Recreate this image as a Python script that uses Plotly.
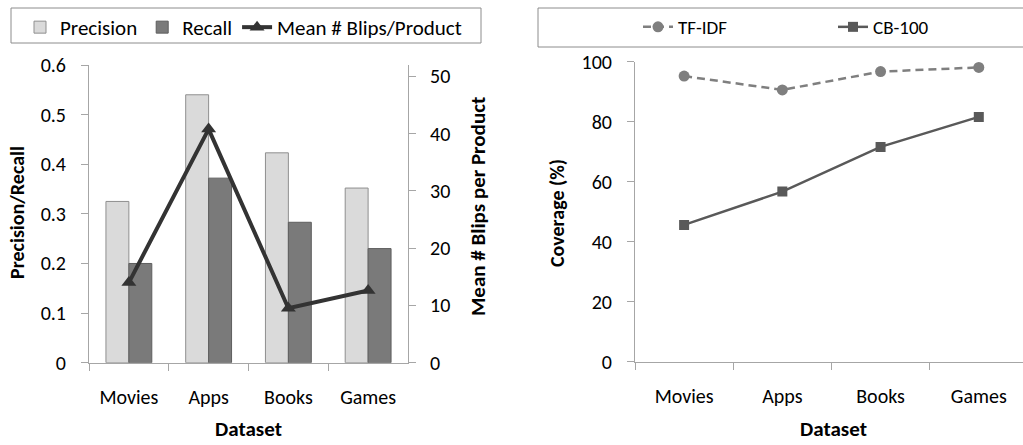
import plotly.graph_objects as go

# ---------------- data ----------------
categories = ["Movies", "Apps", "Books", "Games"]
precision = [0.325, 0.54, 0.423, 0.352]
recall = [0.2, 0.372, 0.283, 0.23]
blips = [14.0, 40.8, 9.5, 12.6]
tfidf = [95.2, 90.6, 96.7, 98.1]
cb100 = [45.6, 56.7, 71.6, 81.6]

left_ticks = [0, 0.1, 0.2, 0.3, 0.4, 0.5, 0.6]
left_ticklabels = ["0", "0.1", "0.2", "0.3", "0.4", "0.5", "0.6"]
blip_ticks = [0, 10, 20, 30, 40, 50]
cov_ticks = [0, 20, 40, 60, 80, 100]

W, H = 1023, 445
FONT = "Carlito, Calibri, Lato, sans-serif"
AX = "#a6a6a6"


def px(x):
    return x / W


def py(y):
    return 1 - y / H


fig = go.Figure()

fig.add_trace(go.Bar(
    x=categories, y=precision, name="Precision",
    marker=dict(color="#dadada", line=dict(color="#8f8f8f", width=1)),
    xaxis="x", yaxis="y", legend="legend",
))
fig.add_trace(go.Bar(
    x=categories, y=recall, name="Recall",
    marker=dict(color="#7a7a7a", line=dict(color="#5e5e5e", width=1)),
    xaxis="x", yaxis="y", legend="legend",
))
fig.add_trace(go.Scatter(
    x=categories, y=blips, name="Mean # Blips/Product",
    mode="lines+markers",
    line=dict(color="#333333", width=4),
    marker=dict(symbol="triangle-up", size=13, color="#333333"),
    xaxis="x", yaxis="y2", legend="legend",
))

fig.add_trace(go.Scatter(
    x=categories, y=tfidf, name="TF-IDF",
    mode="lines+markers",
    line=dict(color="#7f7f7f", width=2.5, dash="8px,5px"),
    marker=dict(symbol="circle", size=11, color="#7f7f7f"),
    xaxis="x3", yaxis="y3", legend="legend2",
))
fig.add_trace(go.Scatter(
    x=categories, y=cb100, name="CB-100",
    mode="lines+markers",
    line=dict(color="#595959", width=2.5),
    marker=dict(symbol="square", size=10, color="#595959"),
    xaxis="x3", yaxis="y3", legend="legend2",
))

tickfont = dict(family=FONT, size=20, color="#000000")
common = dict(showline=True, linecolor=AX, linewidth=1, ticks="outside",
              ticklen=7, tickcolor=AX, tickfont=tickfont, showgrid=False,
              zeroline=False, automargin=False)

fig.update_layout(
    width=W, height=H,
    margin=dict(l=0, r=0, t=0, b=0, pad=0, autoexpand=False),
    paper_bgcolor="white", plot_bgcolor="white",
    font=dict(family=FONT, size=20, color="#000000"),
    barmode="group", bargap=0.425, bargroupgap=0,
    xaxis=dict(
        domain=[px(89), px(408)], anchor="y",
        type="category", range=[-0.5, 3.5],
        tickson="boundaries", ticklabelstandoff=16, **common,
    ),
    yaxis=dict(
        domain=[py(362.7), py(65)], anchor="x",
        range=[0, 0.6], tickvals=left_ticks, ticktext=left_ticklabels,
        ticklabelstandoff=11, **common,
    ),
    yaxis2=dict(
        overlaying="y", side="right", anchor="x",
        range=[0, 52], tickvals=blip_ticks,
        ticklabelstandoff=10, **common,
    ),
    xaxis3=dict(
        domain=[px(635), 1.0], anchor="y3",
        type="category", range=[-0.5, 3.45],
        tickson="boundaries", ticklabelstandoff=16, **common,
    ),
    yaxis3=dict(
        domain=[py(361.7), py(61.7)], anchor="x3",
        range=[0, 100], tickvals=cov_ticks,
        ticklabelstandoff=11, **common,
    ),
    legend=dict(
        orientation="h", x=px(20), y=py(7), xanchor="left", yanchor="top",
        bgcolor="rgba(0,0,0,0)", borderwidth=0,
        font=dict(family=FONT, size=21), itemwidth=30,
        tracegroupgap=0,
    ),
    legend2=dict(
        orientation="h", x=px(638), y=py(8), xanchor="left", yanchor="top",
        bgcolor="rgba(0,0,0,0)", borderwidth=0,
        font=dict(family=FONT, size=19), itemwidth=30,
        entrywidth=150, entrywidthmode="pixels",
    ),
    shapes=[
        dict(type="rect", xref="paper", yref="paper",
             x0=px(11), x1=px(481), y0=py(43), y1=py(8),
             line=dict(color="#8c8c8c", width=1), fillcolor="rgba(0,0,0,0)"),
        dict(type="rect", xref="paper", yref="paper",
             x0=px(538), x1=px(1040), y0=py(47), y1=py(8),
             line=dict(color="#8c8c8c", width=1), fillcolor="rgba(0,0,0,0)"),
    ],
    annotations=[
        dict(text="<b>Precision/Recall</b>", x=px(17), y=py(213),
             xanchor="center", yanchor="middle",
             xref="paper", yref="paper", textangle=-90, showarrow=False,
             font=dict(family=FONT, size=20)),
        dict(text="<b>Mean # Blips per Product</b>", x=px(478), y=py(207),
             xanchor="center", yanchor="middle",
             xref="paper", yref="paper", textangle=-90, showarrow=False,
             font=dict(family=FONT, size=21)),
        dict(text="<b>Dataset</b>", x=px(248), y=py(444),
             xanchor="center", yanchor="bottom",
             xref="paper", yref="paper", showarrow=False,
             font=dict(family=FONT, size=21)),
        dict(text="<b>Coverage (%)</b>", x=px(557), y=py(213),
             xanchor="center", yanchor="middle",
             xref="paper", yref="paper", textangle=-90, showarrow=False,
             font=dict(family=FONT, size=20)),
        dict(text="<b>Dataset</b>", x=px(833), y=py(444),
             xanchor="center", yanchor="bottom",
             xref="paper", yref="paper", showarrow=False,
             font=dict(family=FONT, size=21)),
    ],
)

fig.write_html("out.html", config={"displayModeBar": False},
               post_script="document.body.style.margin='0';")
